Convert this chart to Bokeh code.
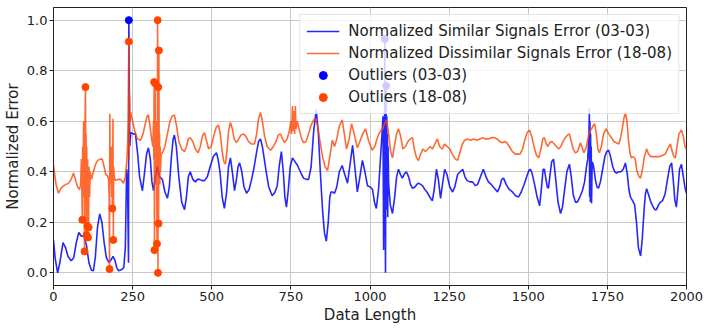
from bokeh.plotting import figure
from bokeh.models import Range1d, FixedTicker, PrintfTickFormatter, Legend, LegendItem
from bokeh.embed import file_html
from bokeh.resources import INLINE

# Normalized error of the similar-signal pair (03-03)
similar_x = [0, 5, 13, 20, 30, 38, 46, 56, 64, 72, 80, 88, 96, 104, 112, 120, 126, 132, 139, 146,
             153, 160, 167, 175, 181, 188, 194, 200, 206, 214, 222, 227, 231, 234, 237, 238, 241, 244, 252, 259,
             266, 272, 281, 288, 294, 300, 306, 311, 316, 322, 328, 335, 344, 352, 360, 366, 372, 378, 382, 388,
             396, 405, 414, 420, 426, 432, 440, 448, 455, 461, 469, 477, 486, 495, 505, 515, 520, 526, 533, 540,
             547, 553, 559, 565, 572, 578, 583, 588, 595, 602, 610, 618, 626, 634, 642, 648, 654, 660, 666, 672,
             680, 691, 700, 707, 713, 720, 726, 731, 736, 742, 748, 755, 763, 771, 780, 790, 798, 806, 814, 822,
             830, 837, 843, 850, 856, 862, 868, 873, 877, 882, 888, 895, 903, 912, 920, 929, 936, 945, 952, 960,
             968, 976, 984, 992, 1001, 1008, 1014, 1020, 1027, 1033, 1038, 1041, 1043, 1044, 1045, 1046, 1047, 1048, 1049, 1050,
             1051, 1052, 1053, 1054, 1055, 1056, 1057, 1059, 1064, 1071, 1078, 1084, 1090, 1096, 1102, 1108, 1115, 1122, 1128, 1134,
             1142, 1148, 1153, 1160, 1166, 1173, 1180, 1189, 1197, 1203, 1210, 1216, 1223, 1229, 1236, 1243, 1252, 1261, 1268, 1277,
             1285, 1293, 1300, 1307, 1316, 1324, 1333, 1340, 1346, 1352, 1358, 1365, 1374, 1383, 1393, 1403, 1410, 1416, 1422, 1430,
             1440, 1450, 1460, 1469, 1478, 1487, 1495, 1502, 1507, 1513, 1520, 1528, 1536, 1542, 1547, 1551, 1556, 1560, 1564, 1568,
             1574, 1580, 1586, 1594, 1602, 1608, 1615, 1622, 1630, 1636, 1642, 1649, 1655, 1663, 1671, 1678, 1684, 1688, 1692, 1693,
             1694, 1695, 1696, 1697, 1698, 1699, 1700, 1702, 1706, 1712, 1717, 1722, 1728, 1735, 1742, 1748, 1754, 1760, 1767, 1773,
             1779, 1786, 1793, 1800, 1807, 1813, 1818, 1823, 1830, 1836, 1842, 1848, 1855, 1860, 1866, 1870, 1874, 1880, 1886, 1893,
             1900, 1905, 1912, 1918, 1924, 1932, 1940, 1947, 1953, 1958, 1963, 1968, 1973, 1978, 1984, 1990, 1995, 2000]
similar_err = [0.13, 0.06, 0.0, 0.04, 0.12, 0.1, 0.065, 0.048, 0.06, 0.12, 0.16, 0.145, 0.145, 0.11, 0.04, 0.01, 0.008, 0.06, 0.18, 0.233,
               0.2, 0.12, 0.06, 0.041, 0.05, 0.065, 0.05, 0.02, 0.008, 0.012, 0.021, 0.1, 0.41, 0.36, 0.04, 1.0, 0.5, 0.555, 0.55, 0.55,
               0.47, 0.38, 0.325, 0.4, 0.47, 0.495, 0.45, 0.36, 0.325, 0.38, 0.42, 0.38, 0.37, 0.32, 0.295, 0.34, 0.45, 0.53, 0.545, 0.5,
               0.38, 0.28, 0.25, 0.3, 0.38, 0.4, 0.37, 0.36, 0.37, 0.37, 0.365, 0.365, 0.38, 0.42, 0.46, 0.475, 0.45, 0.4, 0.3, 0.255,
               0.32, 0.42, 0.455, 0.4, 0.325, 0.37, 0.42, 0.435, 0.4, 0.34, 0.315, 0.33, 0.37, 0.42, 0.48, 0.52, 0.53, 0.5, 0.45, 0.4,
               0.34, 0.305, 0.32, 0.345, 0.42, 0.48, 0.4, 0.3, 0.26, 0.33, 0.42, 0.455, 0.44, 0.425, 0.4, 0.375, 0.37, 0.37, 0.42, 0.56,
               0.645, 0.55, 0.4, 0.25, 0.16, 0.125, 0.2, 0.3, 0.32, 0.32, 0.315, 0.34, 0.4, 0.425, 0.39, 0.355, 0.42, 0.505, 0.42, 0.32,
               0.38, 0.445, 0.4, 0.345, 0.34, 0.33, 0.28, 0.255, 0.33, 0.45, 0.55, 0.62, 0.09, 0.5, 0.3, 0.6, 0.925, 0.2, 0.0, 0.55,
               0.74, 0.25, 0.62, 0.3, 0.55, 0.22, 0.5, 0.35, 0.27, 0.235, 0.3, 0.38, 0.41, 0.39, 0.375, 0.39, 0.4, 0.38, 0.35, 0.335,
               0.34, 0.35, 0.355, 0.35, 0.345, 0.33, 0.32, 0.3, 0.285, 0.33, 0.41, 0.37, 0.295, 0.35, 0.41, 0.39, 0.34, 0.32, 0.34, 0.39,
               0.4, 0.41, 0.38, 0.365, 0.36, 0.36, 0.345, 0.35, 0.37, 0.39, 0.41, 0.385, 0.36, 0.35, 0.335, 0.32, 0.34, 0.37, 0.375, 0.35,
               0.33, 0.32, 0.305, 0.3, 0.32, 0.35, 0.38, 0.405, 0.41, 0.39, 0.35, 0.3, 0.265, 0.34, 0.41, 0.41, 0.37, 0.34, 0.335, 0.38,
               0.44, 0.45, 0.38, 0.28, 0.235, 0.26, 0.33, 0.4, 0.43, 0.38, 0.31, 0.28, 0.28, 0.3, 0.325, 0.36, 0.42, 0.45, 0.55, 0.65,
               0.3, 0.6, 0.28, 0.55, 0.3, 0.5, 0.275, 0.44, 0.425, 0.37, 0.34, 0.335, 0.36, 0.41, 0.46, 0.48, 0.485, 0.46, 0.42, 0.4,
               0.395, 0.4, 0.4, 0.41, 0.435, 0.39, 0.33, 0.3, 0.285, 0.27, 0.2, 0.1, 0.067, 0.13, 0.25, 0.31, 0.333, 0.31, 0.285, 0.265,
               0.25, 0.25, 0.27, 0.28, 0.285, 0.31, 0.37, 0.42, 0.435, 0.37, 0.29, 0.26, 0.33, 0.41, 0.43, 0.38, 0.34, 0.315]

# Normalized error of the dissimilar-signal pair (18-08)
dissimilar_x = [0, 8, 16, 24, 32, 40, 48, 56, 63, 69, 76, 82, 86, 88, 90, 91, 92, 94, 95, 96,
                97, 98, 99, 100, 101, 102, 103, 104, 105, 106, 107, 108, 109, 110, 111, 112, 114, 116, 120, 126,
                133, 140, 147, 154, 160, 165, 170, 174, 176, 177, 178, 179, 180, 182, 183, 184, 185, 186, 187, 188,
                189, 190, 192, 196, 204, 212, 221, 227, 231, 234, 236, 238, 239, 240, 242, 244, 250, 257, 265, 275,
                283, 290, 296, 300, 305, 310, 314, 316, 317, 318, 319, 320, 321, 322, 323, 324, 325, 326, 327, 328,
                329, 330, 331, 332, 333, 334, 335, 336, 337, 338, 340, 344, 352, 360, 368, 375, 382, 389, 396, 405,
                414, 420, 426, 432, 440, 448, 457, 464, 470, 477, 484, 490, 498, 506, 514, 521, 527, 533, 538, 543,
                548, 553, 559, 565, 571, 578, 585, 592, 600, 608, 616, 625, 635, 642, 648, 654, 660, 667, 675, 686,
                695, 703, 710, 717, 724, 730, 738, 745, 750, 752, 755, 757, 760, 762, 764, 766, 770, 778, 784, 790,
                798, 806, 814, 822, 828, 835, 842, 850, 858, 866, 873, 881, 888, 895, 903, 912, 919, 926, 934, 942,
                950, 960, 968, 977, 986, 996, 1007, 1015, 1022, 1028, 1033, 1040, 1046, 1052, 1058, 1065, 1071, 1077, 1084, 1090,
                1097, 1104, 1112, 1120, 1127, 1134, 1140, 1147, 1153, 1160, 1167, 1175, 1183, 1190, 1197, 1205, 1213, 1220, 1228, 1236,
                1244, 1252, 1260, 1270, 1277, 1285, 1292, 1299, 1308, 1318, 1327, 1337, 1347, 1356, 1365, 1374, 1383, 1393, 1402, 1410,
                1418, 1425, 1432, 1440, 1450, 1459, 1466, 1474, 1482, 1490, 1497, 1504, 1511, 1518, 1526, 1533, 1540, 1546, 1551, 1557,
                1562, 1568, 1575, 1582, 1589, 1596, 1603, 1610, 1617, 1624, 1630, 1636, 1642, 1649, 1656, 1665, 1676, 1684, 1692, 1700,
                1706, 1710, 1715, 1720, 1725, 1731, 1738, 1746, 1754, 1763, 1770, 1778, 1786, 1791, 1797, 1802, 1807, 1812, 1817, 1822,
                1826, 1832, 1838, 1843, 1850, 1855, 1861, 1867, 1874, 1880, 1887, 1895, 1905, 1915, 1925, 1933, 1940, 1949, 1955, 1960,
                1965, 1970, 1976, 1984, 1990, 1995, 2000]
dissimilar_err = [0.425, 0.35, 0.315, 0.335, 0.345, 0.35, 0.355, 0.37, 0.395, 0.37, 0.34, 0.33, 0.35, 0.45, 0.3, 0.21, 0.5, 0.38, 0.6, 0.3,
                  0.55, 0.085, 0.45, 0.62, 0.735, 0.4, 0.55, 0.15, 0.5, 0.3, 0.185, 0.45, 0.14, 0.38, 0.18, 0.42, 0.3, 0.4, 0.37, 0.4,
                  0.43, 0.445, 0.45, 0.45, 0.42, 0.39, 0.385, 0.37, 0.3, 0.015, 0.63, 0.4, 0.5, 0.35, 0.45, 0.3, 0.5, 0.255, 0.4, 0.61,
                  0.13, 0.42, 0.38, 0.365, 0.37, 0.37, 0.355, 0.38, 0.435, 0.5, 0.6, 0.915, 0.45, 0.71, 0.6, 0.635, 0.6, 0.56, 0.53, 0.525,
                  0.55, 0.59, 0.62, 0.625, 0.58, 0.53, 0.5, 0.6, 0.45, 0.755, 0.09, 0.6, 0.75, 0.4, 0.55, 0.35, 0.6, 0.4, 0.115, 0.5,
                  1.0, 0.0, 0.735, 0.195, 0.88, 0.4, 0.55, 0.35, 0.5, 0.4, 0.47, 0.475, 0.5, 0.55, 0.6, 0.62, 0.625, 0.58, 0.52, 0.49,
                  0.48, 0.5, 0.53, 0.535, 0.52, 0.49, 0.475, 0.5, 0.54, 0.555, 0.52, 0.49, 0.5, 0.54, 0.575, 0.585, 0.55, 0.48, 0.44, 0.43,
                  0.48, 0.56, 0.595, 0.57, 0.53, 0.515, 0.53, 0.545, 0.55, 0.54, 0.52, 0.51, 0.51, 0.55, 0.61, 0.635, 0.6, 0.54, 0.5, 0.485,
                  0.5, 0.52, 0.545, 0.55, 0.53, 0.515, 0.53, 0.56, 0.6, 0.55, 0.66, 0.56, 0.64, 0.55, 0.66, 0.57, 0.6, 0.56, 0.53, 0.515,
                  0.52, 0.55, 0.585, 0.605, 0.61, 0.58, 0.52, 0.46, 0.42, 0.405, 0.46, 0.525, 0.5, 0.53, 0.58, 0.605, 0.55, 0.49, 0.53, 0.59,
                  0.55, 0.495, 0.52, 0.55, 0.57, 0.52, 0.485, 0.5, 0.53, 0.55, 0.56, 0.57, 0.59, 0.605, 0.56, 0.48, 0.455, 0.5, 0.55, 0.57,
                  0.54, 0.49, 0.5, 0.52, 0.53, 0.535, 0.49, 0.455, 0.445, 0.47, 0.49, 0.48, 0.49, 0.5, 0.49, 0.51, 0.53, 0.5, 0.49, 0.51,
                  0.5, 0.49, 0.47, 0.45, 0.445, 0.48, 0.51, 0.525, 0.53, 0.525, 0.53, 0.525, 0.53, 0.535, 0.53, 0.53, 0.535, 0.535, 0.53, 0.52,
                  0.515, 0.52, 0.515, 0.5, 0.48, 0.47, 0.47, 0.47, 0.49, 0.53, 0.555, 0.565, 0.54, 0.5, 0.465, 0.455, 0.49, 0.53, 0.535, 0.51,
                  0.5, 0.515, 0.52, 0.51, 0.5, 0.49, 0.5, 0.52, 0.535, 0.545, 0.55, 0.52, 0.49, 0.475, 0.48, 0.515, 0.475, 0.5, 0.555, 0.57,
                  0.585, 0.59, 0.55, 0.49, 0.475, 0.5, 0.55, 0.57, 0.55, 0.535, 0.52, 0.515, 0.51, 0.53, 0.57, 0.61, 0.635, 0.6, 0.52, 0.47,
                  0.455, 0.46, 0.45, 0.405, 0.38, 0.375, 0.41, 0.46, 0.49, 0.47, 0.46, 0.46, 0.46, 0.46, 0.465, 0.47, 0.49, 0.51, 0.48, 0.46,
                  0.455, 0.5, 0.55, 0.565, 0.54, 0.5, 0.49]

# Points flagged as outliers in each error series
outlier_similar_x = [238, 1047, 1051]
outlier_similar_y = [1.0, 0.925, 0.74]
outlier_dissimilar_x = [91, 98, 101, 104, 107, 109, 111, 177, 186, 189, 238, 318, 319, 321, 327, 329, 330, 331, 332, 333]
outlier_dissimilar_y = [0.21, 0.085, 0.735, 0.15, 0.185, 0.14, 0.18, 0.015, 0.255, 0.13, 0.915, 0.755, 0.09, 0.75, 0.115, 1.0, 0.0, 0.735, 0.195, 0.88]

x_ticks = [0, 250, 500, 750, 1000, 1250, 1500, 1750, 2000]
y_ticks = [0.0, 0.2, 0.4, 0.6, 0.8, 1.0]

FONT = "DejaVu Sans"

p = figure(width=708, height=329, output_backend="svg", toolbar_location=None,
           x_range=Range1d(0, 2000), y_range=Range1d(-0.05, 1.05),
           min_border_left=53, min_border_right=22, min_border_top=7, min_border_bottom=44)

p.outline_line_color = "#222222"
p.outline_line_width = 1
p.background_fill_color = "white"
p.border_fill_color = "white"

for ax in (p.xaxis, p.yaxis):
    ax.major_tick_out = 4
    ax.major_tick_in = 0
    ax.minor_tick_line_color = None
    ax.axis_line_color = "#222222"
    ax.major_tick_line_color = "#222222"
    ax.major_label_text_font = FONT
    ax.major_label_text_font_size = "13px"
    ax.major_label_text_color = "#222222"
    ax.axis_label_text_font = FONT
    ax.axis_label_text_font_size = "15px"
    ax.axis_label_text_font_style = "normal"
    ax.axis_label_text_color = "#222222"
    ax.major_label_standoff = 2
    ax.axis_label_standoff = 2

p.xaxis.ticker = FixedTicker(ticks=x_ticks)
p.yaxis.ticker = FixedTicker(ticks=y_ticks)
p.yaxis.formatter = PrintfTickFormatter(format="%.1f")
p.xaxis.axis_label = "Data Length"
p.yaxis.axis_label = "Normalized Error"

p.grid.grid_line_color = "#c8c8c8"
p.grid.grid_line_width = 1
p.xgrid.ticker = FixedTicker(ticks=x_ticks)
p.ygrid.ticker = FixedTicker(ticks=y_ticks)

r_sim = p.line(similar_x, similar_err, line_color="blue", line_width=1.6, line_alpha=0.85)
r_dis = p.line(dissimilar_x, dissimilar_err, line_color="orangered", line_width=1.6, line_alpha=0.8)
r_out_sim = p.scatter(outlier_similar_x, outlier_similar_y, marker="circle", size=7,
                      fill_color="blue", line_color="blue")
r_out_dis = p.scatter(outlier_dissimilar_x, outlier_dissimilar_y, marker="circle", size=7,
                      fill_color="orangered", line_color="orangered")

legend = Legend(items=[
    LegendItem(label="Normalized Similar Signals Error (03-03)", renderers=[r_sim]),
    LegendItem(label="Normalized Dissimilar Signals Error (18-08)", renderers=[r_dis]),
    LegendItem(label="Outliers (03-03)", renderers=[r_out_sim]),
    LegendItem(label="Outliers (18-08)", renderers=[r_out_dis]),
], location="top_right")
legend.label_text_font = FONT
legend.label_text_font_size = "15px"
legend.label_text_color = "#222222"
legend.glyph_width = 33
legend.glyph_height = 20
legend.label_height = 20
legend.label_standoff = 9
legend.spacing = 2
legend.padding = 6
legend.margin = 7
legend.border_line_color = "#cccccc"
legend.background_fill_alpha = 0.8
p.add_layout(legend, "center")

open("out.html", "w").write(file_html(p, INLINE))
